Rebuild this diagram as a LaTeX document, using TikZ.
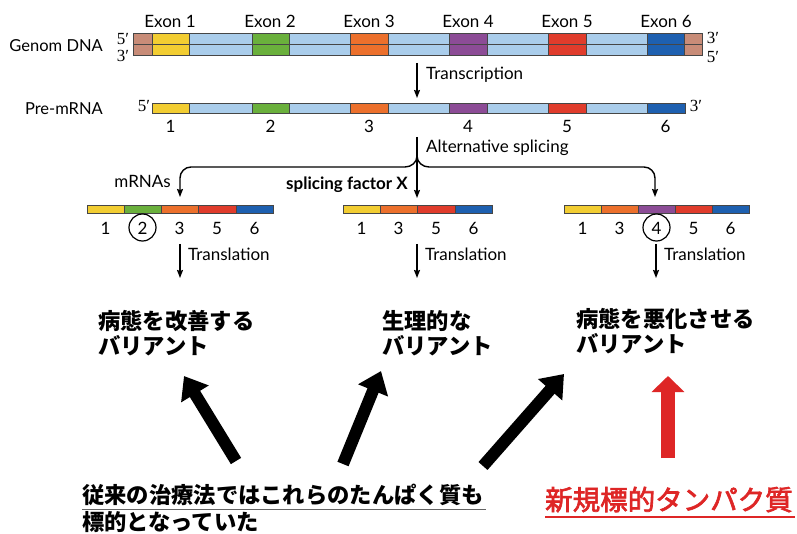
\documentclass[tikz,border=0pt]{standalone}
\usepackage{fontspec}
\setmainfont{Lato}
\newfontfamily\jpfont{Noto Sans CJK JP}
\newfontfamily\jpmed[FakeBold=2.5]{Noto Sans CJK JP}
\newfontfamily\primefont{Liberation Serif}
\usetikzlibrary{arrows.meta}
\definecolor{capc}{RGB}{200,140,120}
\definecolor{yel}{RGB}{242,205,50}
\definecolor{grn}{RGB}{106,176,60}
\definecolor{org}{RGB}{236,112,44}
\definecolor{pur}{RGB}{140,76,150}
\definecolor{rd}{RGB}{224,60,44}
\definecolor{blu}{RGB}{30,96,176}
\definecolor{lbl}{RGB}{170,205,235}
\definecolor{edgec}{RGB}{70,70,70}
\definecolor{jpred}{RGB}{222,38,38}
\definecolor{ulgray}{RGB}{100,100,100}
\begin{document}
\begin{tikzpicture}[x=1pt,y=-1pt,
  seg/.style={draw=edgec,line width=0.6pt},
  txt/.style={font=\fontsize{17}{19}\selectfont,inner sep=0pt},
  num/.style={font=\fontsize{17}{19}\selectfont,inner sep=0pt},
  prime/.style={font=\primefont\fontsize{17}{17}\selectfont,inner sep=0pt},
  arr/.style={line width=1.4pt,-{Stealth[length=8pt,width=6pt,inset=1pt]}},
  big/.style={line width=12pt,-{Triangle[length=21pt,width=31pt]}},
  bigred/.style={jpred,line width=14pt,-{Triangle[length=16pt,width=32pt]}},
  jp/.style={font=\jpfont\bfseries\fontsize{22.3}{25}\selectfont,anchor=base west,inner sep=0pt}]
\useasboundingbox (0,0) rectangle (797,534);
\fill[white] (0,0) rectangle (797,534);

% ---------- Genomic DNA ----------
\foreach \a/\b/\cc in {133/152/capc,152/189/yel,189/252/lbl,252/289/grn,289/350/lbl,350/388/org,388/449/lbl,449/487/pur,487/548/lbl,548/586/rd,586/647/lbl,647/684/blu,684/702/capc}
  {\filldraw[fill=\cc,seg] (\a,33) rectangle (\b,55);}
\draw[seg] (133,44) -- (702,44);
\node[txt] (ex1) at (170,21) {Exon 1};
\node[txt] (ex2) at (270,21) {Exon 2};
\node[txt] (ex3) at (369,21) {Exon 3};
\node[txt] (ex4) at (468,21) {Exon 4};
\node[txt] (ex5) at (567,21) {Exon 5};
\node[txt] (ex6) at (666,21) {Exon 6};
\node[txt,anchor=east,font=\fontsize{16.5}{18}\selectfont] (gdna) at (103,46) {Genom DNA};
\node[prime] (p5a) at (123,39) {5′};
\node[prime] (p3a) at (123,56) {3′};
\node[prime] (p3b) at (713,38) {3′};
\node[prime] (p5b) at (713,57) {5′};

% ---------- Transcription ----------
\coordinate (tr1) at (417,63);
\coordinate (tr2) at (417,98);
\draw[arr] (tr1) -- (tr2);
\node[txt,anchor=west] (trt) at (426,75) {Transcription};

% ---------- Pre-mRNA ----------
\foreach \a/\b/\cc in {152/189/yel,189/252/lbl,252/289/grn,289/350/lbl,350/388/org,388/449/lbl,449/487/pur,487/548/lbl,548/586/rd,586/647/lbl,647/685/blu}
  {\filldraw[fill=\cc,seg] (\a,103) rectangle (\b,113);}
\node[txt,anchor=east,font=\fontsize{16.5}{18}\selectfont] (pre) at (103,109) {Pre-mRNA};
\node[prime] (p5c) at (144,106) {5′};
\node[prime] (p3c) at (696,106) {3′};
\foreach \x/\n in {170.5/1,270.5/2,369/3,468/4,567/5,665.5/6}
  {\node[num] at (\x,126) {\n};}

% ---------- Alternative splicing ----------
\coordinate (as1) at (417,137);
\coordinate (as2) at (417,198);
\coordinate (br) at (417,156);
\coordinate (lt) at (180,197);
\coordinate (rt) at (655,197);
\draw[arr] (as1) -- (as2);
\draw[arr] (br) to[out=-90,in=0] (405,167) -- (191,167) to[out=180,in=90] (180,178) -- (lt);
\draw[arr] (br) to[out=-90,in=180] (429,167) -- (644,167) to[out=0,in=90] (655,178) -- (rt);
\node[txt,anchor=west] (ast) at (426,148) {Alternative splicing};
\node[txt,anchor=east] (mr) at (171,181) {mRNAs};
\node[txt,anchor=east,font=\bfseries\fontsize{17}{19}\selectfont] (sfx) at (408,185) {splicing factor X};

% ---------- mRNAs ----------
\foreach \a/\b/\cc in {87/124/yel,124/161/grn,161/198/org,198/236/rd,236/273/blu,
  343/380/yel,380/417/org,417/455/rd,455/492/blu,
  564/601/yel,601/638/org,638/675/pur,675/712/rd,712/749/blu}
  {\filldraw[fill=\cc,seg] (\a,205) rectangle (\b,213);}
\foreach \x/\n in {105.5/1,142.5/2,179.5/3,217/5,254.5/6,
  361.5/1,398.5/3,436/5,473.5/6,
  582.5/1,619.5/3,656.5/4,693.5/5,730.5/6}
  {\node[num] at (\x,228) {\n};}
\draw[line width=1.2pt] (142.5,227.5) circle (13.5);
\draw[line width=1.2pt] (656.5,227.5) circle (13.5);

% ---------- Translation ----------
\foreach \x/\nm in {180/tl,417/tm,656/tr}{
  \coordinate (\nm a) at (\x,244);
  \coordinate (\nm b) at (\x,278);
  \draw[arr] (\nm a) -- (\nm b);
  \node[txt,anchor=west] at (\x+8,254) {Translation};
}

% ---------- Japanese labels ----------
\node[jp] (v1a) at (98,329) {病態を改善する};
\node[jp] (v1b) at (98,354) {バリアント};
\node[jp] (v2a) at (382,329) {生理的な};
\node[jp] (v2b) at (382,354) {バリアント};
\node[jp] (v3a) at (576,327) {病態を悪化させる};
\node[jp] (v3b) at (576,352) {バリアント};

% ---------- Big arrows ----------
\coordinate (b1s) at (236,461);
\coordinate (b1e) at (184,376);
\coordinate (b2s) at (343,464);
\coordinate (b2e) at (381,371);
\coordinate (b3s) at (483,466);
\coordinate (b3e) at (564,374);
\coordinate (r1s) at (668,458);
\coordinate (r1e) at (668,376);
\draw[big] (b1s) -- (b1e);
\draw[big] (b2s) -- (b2e);
\draw[big] (b3s) -- (b3e);
\draw[bigred] (r1s) -- (r1e);

% ---------- Bottom texts ----------
\node[jp] (old1) at (82,503) {従来の治療法ではこれらのたんぱく質も};
\node[jp] (old2) at (82,530) {標的となっていた};
\draw[ulgray,line width=1.4pt] (82,509.5) -- (486,509.5);
\node[jp,font=\jpmed\fontsize{27.5}{30}\selectfont,text=jpred] (newt) at (545,510) {新規標的タンパク質};
\draw[jpred,line width=1.4pt] (545,517) -- (795,517);
\end{tikzpicture}
\end{document}
